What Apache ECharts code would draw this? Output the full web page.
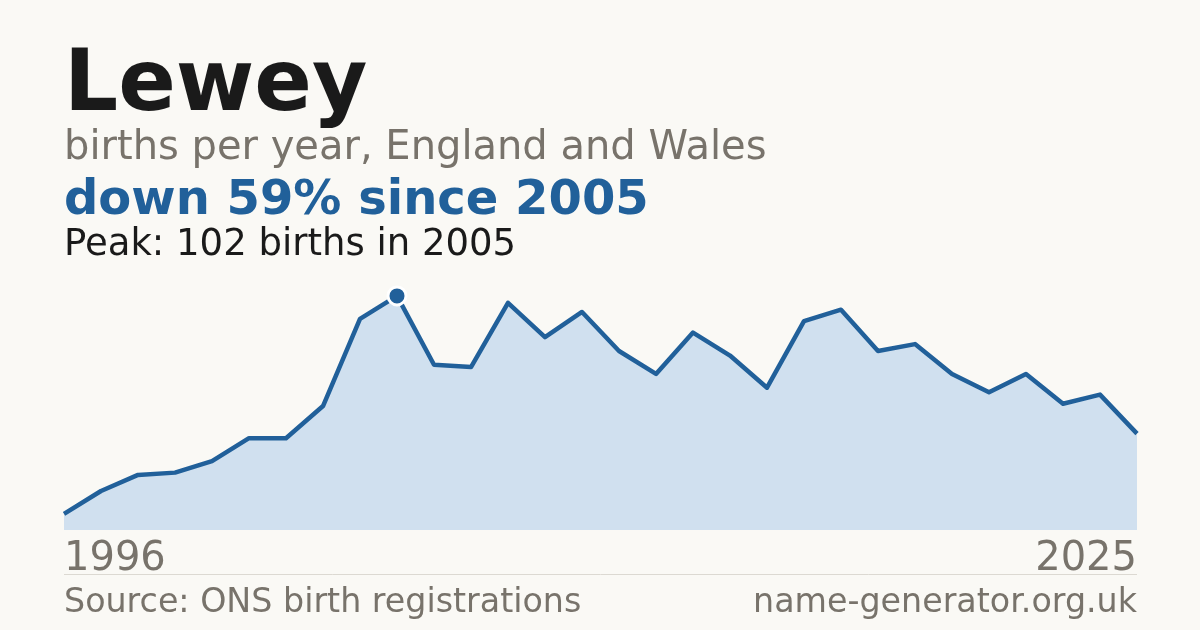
<!DOCTYPE html>
<html>
<head>
<meta charset="utf-8">
<title>Lewey</title>
<script src="https://cdn.jsdelivr.net/npm/echarts@6/dist/echarts.min.js"></script>
<style>
  html, body { margin: 0; padding: 0; background: #faf9f5; }
  #main { width: 1200px; height: 630px; }
</style>
</head>
<body>
<div id="main"></div>
<script>
'use strict'
// births per year, 1996 - 2025
var years = ['1996','1997','1998','1999','2000','2001','2002','2003','2004','2005',
             '2006','2007','2008','2009','2010','2011','2012','2013','2014','2015',
             '2016','2017','2018','2019','2020','2021','2022','2023','2024','2025'];
var births = [7, 17, 24, 25, 30, 40, 40, 54, 92, 102,
              72, 71, 99, 84, 95, 78, 68, 86, 76, 62,
              91, 96, 78, 81, 68, 60, 68, 55, 59, 42];

var peak = Math.max.apply(null, births);
var peakIdx = births.indexOf(peak);
var last = births[births.length - 1];
var drop = Math.round((1 - last / peak) * 100);

var blue = '#21609a';
var grey = '#78736b';
var font = '"DejaVu Sans", sans-serif';

// only the peak gets a dot
var peakDot = births.map(function (v, i) { return i === peakIdx ? v : null; });

var chart = echarts.init(document.getElementById('main'));
chart.setOption({
    backgroundColor: '#faf9f5',
    animation: false,
    grid: { left: 64, right: 63, top: 250, bottom: 100 },
    xAxis: {
        type: 'category',
        data: years,
        boundaryGap: false,
        show: false
    },
    yAxis: {
        type: 'value',
        min: 0,
        max: 122,
        show: false,
        splitLine: { show: false }
    },
    series: [
        {
            type: 'line',
            data: births,
            showSymbol: false,
            lineStyle: { color: blue, width: 4.5, join: 'round' },
            areaStyle: { color: '#d0e0ef', opacity: 1 },
            silent: true
        },
        {
            type: 'scatter',
            data: peakDot,
            symbol: 'circle',
            symbolSize: 18,
            itemStyle: { color: blue, opacity: 1, borderColor: '#ffffff', borderWidth: 3 },
            silent: true,
            z: 5
        }
    ],
    graphic: [
        { type: 'text', left: 64, y: 88, style: { text: 'Lewey', font: 'bold 85px ' + font, fill: '#1a1a1a', verticalAlign: 'middle' } },
        { type: 'text', left: 64, y: 149, style: { text: 'births per year, England and Wales', font: '40px ' + font, fill: grey, verticalAlign: 'middle' } },
        { type: 'text', left: 64, y: 202, style: { text: 'down ' + drop + '% since ' + years[peakIdx], font: 'bold 48px ' + font, fill: blue, verticalAlign: 'middle' } },
        { type: 'text', left: 64, y: 245, style: { text: 'Peak: ' + peak + ' births in ' + years[peakIdx], font: '37px ' + font, fill: '#1a1a1a', verticalAlign: 'middle' } },
        { type: 'text', x: 64, y: 560, style: { text: years[0], font: '40px ' + font, fill: grey, align: 'left', verticalAlign: 'middle' } },
        { type: 'text', x: 1137, y: 560, style: { text: years[years.length - 1], font: '40px ' + font, fill: grey, align: 'right', verticalAlign: 'middle' } },
        { type: 'line', shape: { x1: 64, y1: 574.5, x2: 1137, y2: 574.5 }, style: { stroke: '#dcd9d2', lineWidth: 1 } },
        { type: 'text', x: 64, y: 603, style: { text: 'Source: ONS birth registrations', font: '33.3px ' + font, fill: grey, align: 'left', verticalAlign: 'middle' } },
        { type: 'text', x: 1137, y: 603, style: { text: 'name-generator.org.uk', font: '33.3px ' + font, fill: grey, align: 'right', verticalAlign: 'middle' } }
    ]
});
</script>
</body>
</html>
